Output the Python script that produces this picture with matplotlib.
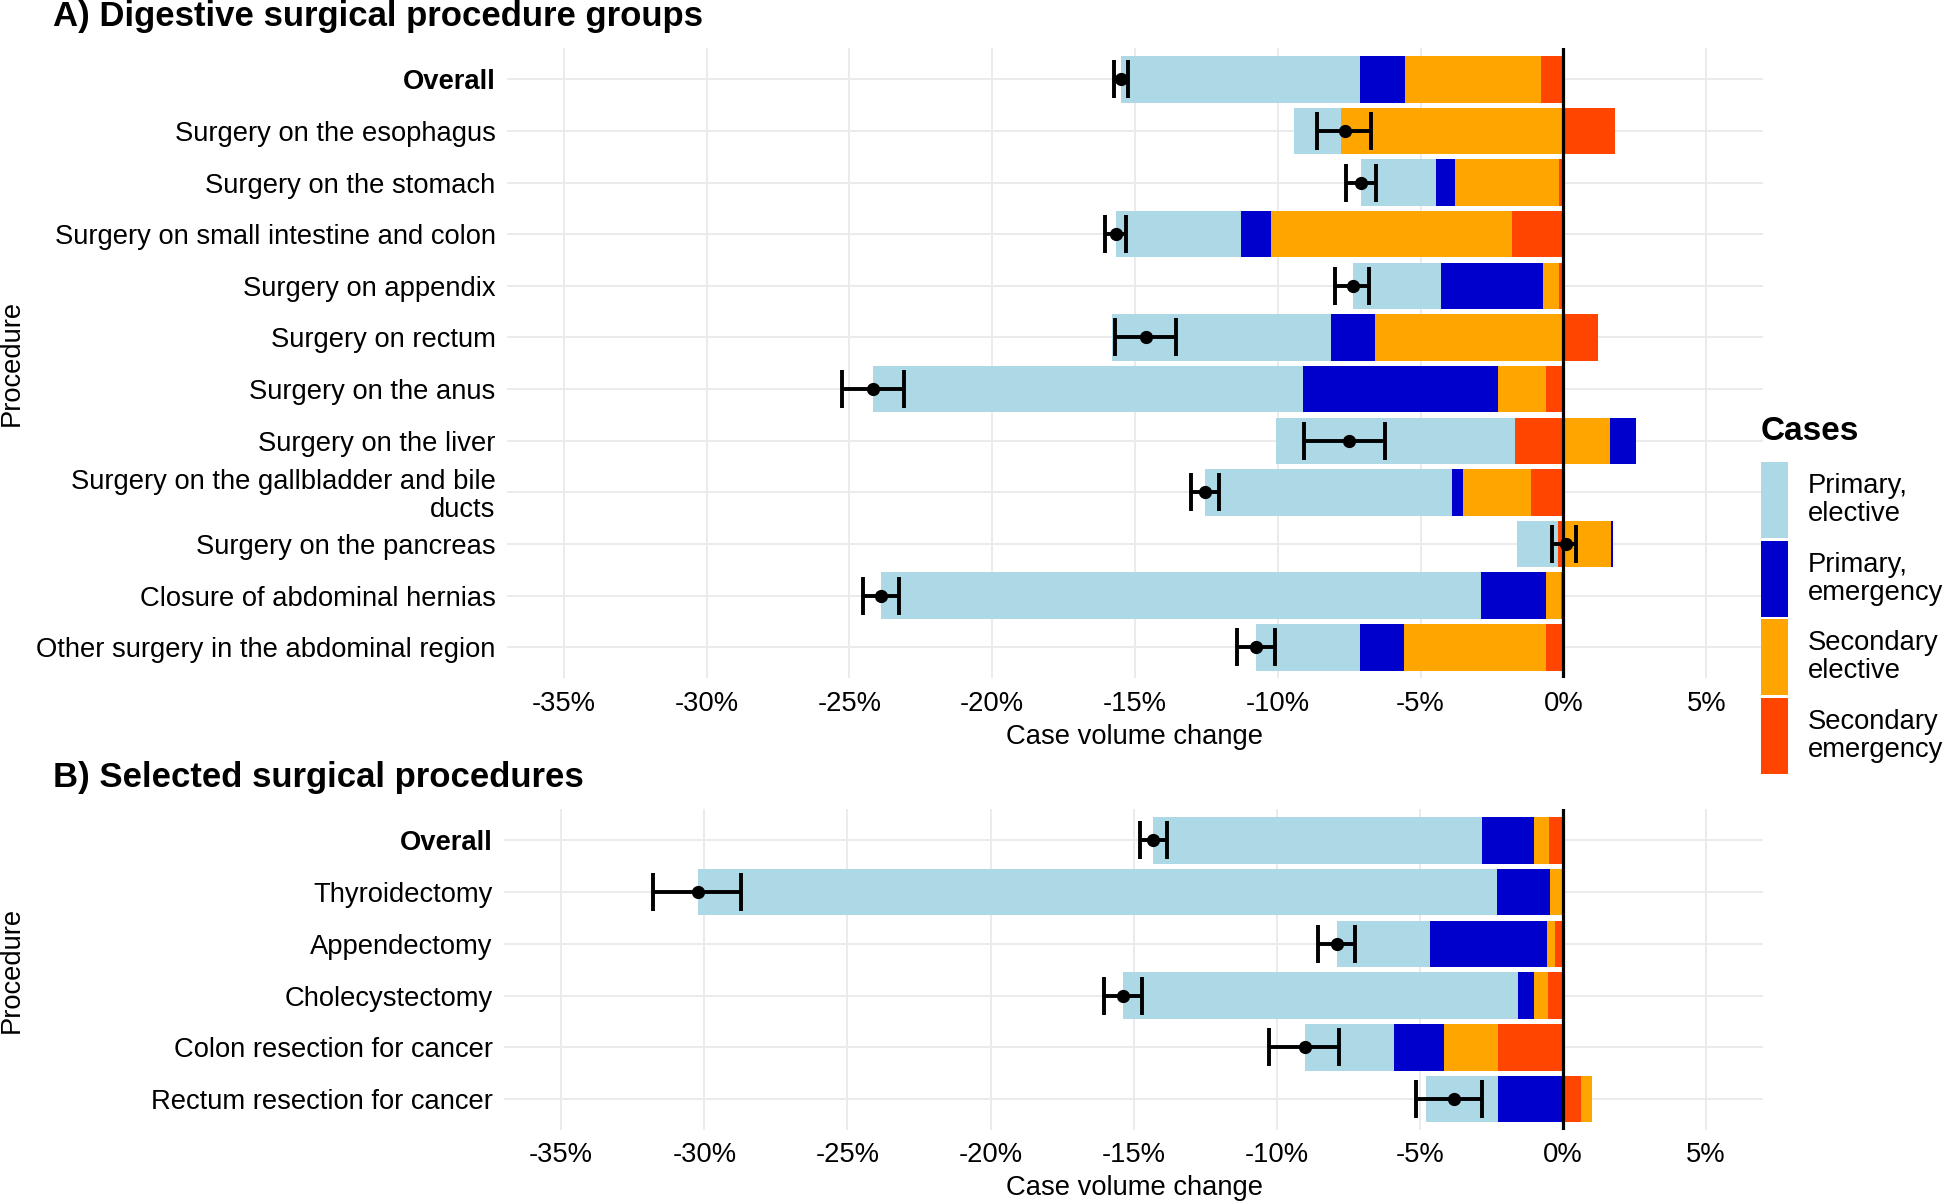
import numpy as np
import matplotlib
matplotlib.use("Agg")
import matplotlib.pyplot as plt
from matplotlib.patches import Rectangle

plt.rcParams['font.family'] = ['Liberation Sans', 'DejaVu Sans']

# ---- data (case volume change, %) ----
groups_a = ["Overall", "Surgery on the esophagus", "Surgery on the stomach",
            "Surgery on small intestine and colon", "Surgery on appendix",
            "Surgery on rectum", "Surgery on the anus", "Surgery on the liver",
            "Surgery on the gallbladder and bile\nducts", "Surgery on the pancreas",
            "Closure of abdominal hernias", "Other surgery in the abdominal region"]
prim_elec_a = [-8.375, -1.64, -2.61, -4.38, -3.09, -7.65, -15.04, -8.34, -8.66, -1.46, -21.0, -3.66]
prim_emer_a = [-1.59, 0.0, -0.67, -1.07, -3.59, -1.54, -6.84, 0.90, -0.37, 0.07, -2.28, -1.54]
sec_elec_a = [-4.74, -7.79, -3.63, -8.43, -0.56, -6.61, -1.68, 1.64, -2.38, 1.66, -0.52, -4.95]
sec_emer_a = [-0.80, 1.79, -0.16, -1.80, -0.14, 1.20, -0.61, -1.71, -1.14, -0.18, -0.09, -0.62]
est_a = [-15.50, -7.64, -7.07, -15.68, -7.38, -14.60, -24.17, -7.51, -12.55, 0.09, -23.89, -10.77]
lo_a = [-15.73, -8.61, -7.61, -16.05, -7.98, -15.70, -25.27, -9.07, -13.04, -0.39, -24.54, -11.43]
hi_a = [-15.23, -6.75, -6.57, -15.30, -6.79, -13.55, -23.09, -6.25, -12.05, 0.45, -23.25, -10.11]

groups_b = ["Overall", "Thyroidectomy", "Appendectomy", "Cholecystectomy",
            "Colon resection for cancer", "Rectum resection for cancer"]
prim_elec_b = [-11.51, -27.93, -3.28, -13.81, -3.10, -2.52]
prim_emer_b = [-1.83, -1.82, -4.07, -0.56, -1.76, -2.27]
sec_elec_b = [-0.51, -0.45, -0.29, -0.49, -1.87, 0.38]
sec_emer_b = [-0.49, -0.02, -0.27, -0.51, -2.27, 0.62]
est_b = [-14.34, -30.22, -7.91, -15.37, -9.00, -3.79]
lo_b = [-14.77, -31.78, -8.55, -16.04, -10.27, -5.12]
hi_b = [-13.83, -28.71, -7.26, -14.72, -7.84, -2.83]

case_labels = ["Primary,\nelective", "Primary,\nemergency", "Secondary\nelective", "Secondary\nemergency"]
colors = ["#ADD8E6", "#0000CD", "#FFA500", "#FF4500"]
xticks = [-35, -30, -25, -20, -15, -10, -5, 0, 5]

W, H = 1944, 1202
fig = plt.figure(figsize=(W / 100, H / 100), dpi=100)


def fx(px):
    return px / W


def fy(py):
    return 1 - py / H


def panel(rect, cats, series, est, lo, hi):
    ax = fig.add_axes(rect)
    n = len(cats)
    y = np.arange(n)
    neg = np.zeros(n)
    pos = np.zeros(n)
    # stack from zero outward: secondary emergency first, primary elective last
    for idx in [3, 2, 1, 0]:
        v = np.array(series[idx])
        base = np.where(v < 0, neg, pos)
        ax.barh(y, v, left=base, height=0.9, color=colors[idx], zorder=2, linewidth=0)
        neg += np.where(v < 0, v, 0)
        pos += np.where(v > 0, v, 0)
    ax.axvline(0, color="black", lw=2.3, zorder=3)
    est = np.array(est)
    ax.errorbar(est, y, xerr=[est - np.array(lo), np.array(hi) - est], fmt="o",
                color="black", ms=8.5, elinewidth=2.8, capsize=14, capthick=2.8, zorder=4)
    ax.set_xlim(-37, 7)
    ax.set_ylim(n - 1 + 0.6, -0.6)
    ax.set_xticks(xticks)
    ax.set_xticklabels([f"{t}%" for t in xticks])
    ax.set_yticks(y)
    ax.set_yticklabels(cats, linespacing=1.1)
    ax.get_yticklabels()[0].set_fontweight("bold")
    ax.tick_params(length=0, labelsize=19.7, colors="black")
    ax.tick_params(axis="y", pad=8)
    ax.tick_params(axis="x", pad=9)
    ax.grid(True, color="#EBEBEB", lw=1.4, zorder=0)
    ax.set_axisbelow(True)
    for s in ax.spines.values():
        s.set_visible(False)
    return ax


ax_a = panel([fx(506.7), fy(678.3), fx(1763.3) - fx(506.7), (678.3 - 48.3) / H],
             groups_a, [prim_elec_a, prim_emer_a, sec_elec_a, sec_emer_a], est_a, lo_a, hi_a)
ax_b = panel([fx(504), fy(1130), fx(1763.3) - fx(504), (1130 - 809.3) / H],
             groups_b, [prim_elec_b, prim_emer_b, sec_elec_b, sec_emer_b], est_b, lo_b, hi_b)

# titles and axis titles
fig.text(fx(53), fy(26), "A) Digestive surgical procedure groups", fontsize=25,
         fontweight="bold", va="baseline", ha="left")
fig.text(fx(53), fy(787), "B) Selected surgical procedures", fontsize=25,
         fontweight="bold", va="baseline", ha="left")
for yc in [363, 970]:
    fig.text(fx(12), fy(yc), "Procedure", fontsize=19.7, rotation=90, va="center", ha="center")
fig.text(fx(1135), fy(737), "Case volume change", fontsize=19.7, va="center", ha="center")
fig.text(fx(1135), fy(1188), "Case volume change", fontsize=19.7, va="center", ha="center")

# legend
fig.text(fx(1761), fy(440), "Cases", fontsize=24, fontweight="bold", va="baseline", ha="left")
key_tops = [462, 541, 619, 698]
for top, col, lab in zip(key_tops, colors, case_labels):
    fig.add_artist(Rectangle((fx(1761), fy(top + 76)), fx(27), 76 / H,
                             transform=fig.transFigure, facecolor=col, edgecolor="none"))
    fig.text(fx(1808), fy(top + 38), lab, fontsize=19.7, va="center", ha="left",
             linespacing=1.1)

fig.savefig("out.png", dpi=100, facecolor="white")
